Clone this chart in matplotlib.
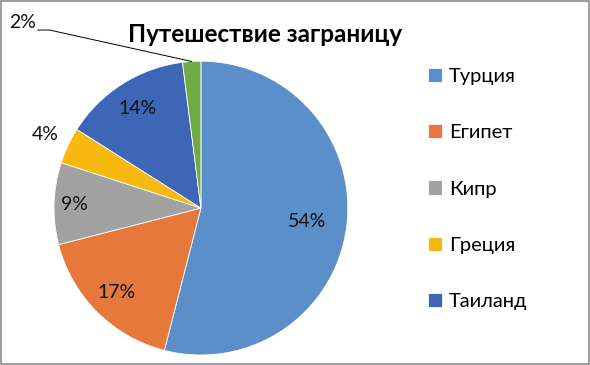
import numpy as np
import matplotlib.pyplot as plt
from matplotlib.patches import Rectangle

countries = ['Турция', 'Египет', 'Кипр', 'Греция', 'Таиланд', 'Другие']
shares = [54, 17, 9, 4, 14, 2]
colors = ['#5b8fca', '#e5783a', '#a2a2a2', '#f7b90f', '#3d67b6', '#6fab46']
label_dist = [0.73, 0.81, 0.86, 1.17, 0.80, None]

plt.rcParams['font.family'] = ['Lato', 'DejaVu Sans']

fig = plt.figure(figsize=(5.9, 3.65), dpi=100)
ax = fig.add_axes([0.0915, 0.0274, 0.498, 0.805])

wedges, _ = ax.pie(shares, colors=colors, startangle=90, counterclock=False,
                   wedgeprops=dict(linewidth=0.6, edgecolor='white'))
ax.set_aspect('equal')
ax.set_xlim(-1, 1)
ax.set_ylim(-1, 1)

for w, v, d in zip(wedges, shares, label_dist):
    a = np.deg2rad((w.theta1 + w.theta2) / 2)
    if d is None:
        # small slice: label outside with leader line
        ax.plot([-1.11, -1.03, np.cos(a)], [1.212, 1.212, np.sin(a)],
                color='black', lw=0.7, clip_on=False)
        ax.text(-1.125, 1.265, f'{v}%', ha='right', va='center', fontsize=14,
                color='#111111', clip_on=False)
        continue
    ax.text(d * np.cos(a), d * np.sin(a), f'{v}%', ha='center', va='center',
            fontsize=14, color='#111111')

fig.text(0.45, 0.905, 'Путешествие заграницу', ha='center', va='center',
         fontsize=17.5, fontweight='bold')

ax.legend(wedges[:5], countries[:5], loc='center left',
          bbox_to_anchor=(1.21, 0.565), frameon=False, fontsize=14.5,
          handlelength=0.7, handleheight=0.7, handletextpad=0.35,
          labelspacing=1.95)

fig.patches.append(Rectangle((0.001, 0.002), 0.997, 0.995, transform=fig.transFigure,
                             fill=False, edgecolor='#8c8c8c', lw=1.2))

fig.savefig('out.png', dpi=100)
